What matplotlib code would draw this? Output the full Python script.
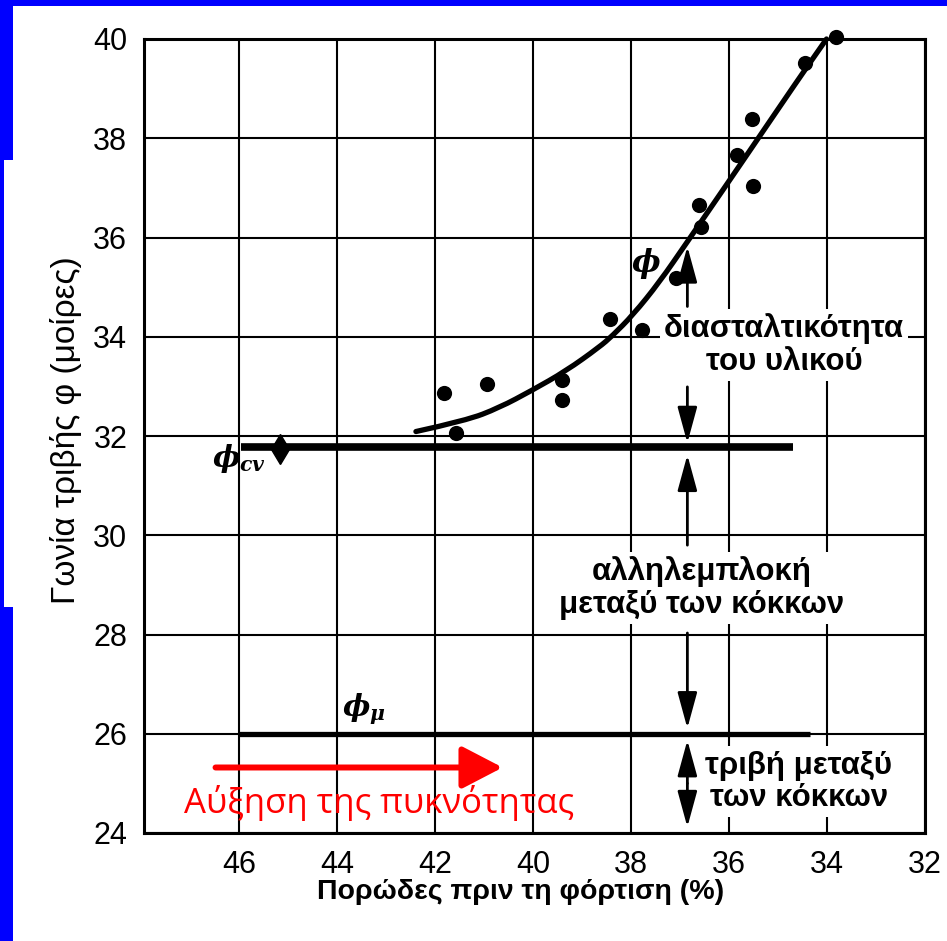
import matplotlib
matplotlib.use("Agg")
import matplotlib.pyplot as plt
from matplotlib.patches import Rectangle, PathPatch
from matplotlib.path import Path

# ---------------- data ----------------
porosity = [41.82, 41.58, 40.93, 39.41, 39.41, 38.43, 37.77, 37.09, 36.62,
            36.57, 35.84, 35.53, 35.52, 34.45, 33.82]
phi_vals = [32.86, 32.07, 33.05, 33.12, 32.73, 34.36, 34.13, 35.19, 36.66,
            36.21, 37.67, 38.39, 37.04, 39.52, 40.04]

diamond_x = [45.16]
diamond_y = [31.73]

curve_x = [42.39, 41.37, 40.69, 40.02, 39.33, 38.65, 38.38, 37.96, 37.42,
           36.86, 36.06, 35.39, 34.90, 34.45, 34.01]
curve_y = [32.09, 32.31, 32.57, 32.92, 33.31, 33.79, 34.02, 34.44, 35.10,
           35.90, 37.05, 38.02, 38.73, 39.38, 40.00]

phi_cv_x = [45.97, 34.70]
phi_cv_y = [31.77, 31.77]
phi_mu_x = [46.00, 34.35]
phi_mu_y = [26.00, 26.00]

x_ticks = [46, 44, 42, 40, 38, 36, 34, 32]
y_ticks = [24, 26, 28, 30, 32, 34, 36, 38, 40]

arrow_x = 36.85

plt.rcParams['mathtext.fontset'] = 'custom'
plt.rcParams['mathtext.it'] = 'DejaVu Serif:italic:bold'
plt.rcParams['mathtext.rm'] = 'DejaVu Serif:bold'
plt.rcParams['font.family'] = ['Liberation Sans', 'DejaVu Sans']

fig = plt.figure(figsize=(9.47, 9.41), dpi=100)
fig.patch.set_facecolor('white')

# blue slide frame pieces
blue = '#0000ff'
fig.patches.append(Rectangle((0, 1 - 6/941), 1, 6/941, transform=fig.transFigure,
                             facecolor=blue, edgecolor='none', zorder=0))
fig.patches.append(Rectangle((0, 1 - 160/941), 13/947, 160/941, transform=fig.transFigure,
                             facecolor=blue, edgecolor='none', zorder=0))
fig.patches.append(Rectangle((0, 1 - 607/941), 4/947, 447/941, transform=fig.transFigure,
                             facecolor=blue, edgecolor='none', zorder=0))
fig.patches.append(Rectangle((0, 0), 13/947, 334/941, transform=fig.transFigure,
                             facecolor=blue, edgecolor='none', zorder=0))

ax = fig.add_axes([144/947, 108/941, 781/947, 794/941])
ax.set_xlim(47.94, 32.0)
ax.set_ylim(24, 40)
ax.set_xticks(x_ticks)
ax.set_yticks(y_ticks)
ax.tick_params(length=0, labelsize=22, pad=12)
ax.grid(True, color='black', lw=1.5, zorder=1)
for s in ax.spines.values():
    s.set_linewidth(2.2)
    s.set_zorder(3)

# faded region behind the red caption
ax.add_patch(Rectangle((47.94, 24), 47.94 - 38.85, 1.3, facecolor='white', alpha=0.85,
                       edgecolor='none', zorder=1.5))

# smooth trend curve: quadratic Bezier through the read points (midpoint scheme)
pts = list(zip(curve_x, curve_y))
verts = [pts[0]]
codes = [Path.MOVETO]
for i in range(1, len(pts) - 2):
    mid = ((pts[i][0] + pts[i + 1][0]) / 2, (pts[i][1] + pts[i + 1][1]) / 2)
    verts += [pts[i], mid]
    codes += [Path.CURVE3, Path.CURVE3]
verts += [pts[-2], pts[-1]]
codes += [Path.CURVE3, Path.CURVE3]
ax.add_patch(PathPatch(Path(verts, codes), facecolor='none', edgecolor='black',
                       lw=3.8, capstyle='round', joinstyle='round', zorder=4,
                       clip_on=False))

ax.scatter(porosity, phi_vals, s=120, color='black', zorder=5, linewidths=0, clip_on=False)
ax.plot(phi_cv_x, phi_cv_y, color='black', lw=5.5, solid_capstyle='butt', zorder=4)
ax.plot(diamond_x, diamond_y, marker='d', markersize=15, color='black', zorder=5)
ax.plot(phi_mu_x, phi_mu_y, color='black', lw=3.8, solid_capstyle='butt', zorder=4)

# symbol labels
ax.text(37.69, 35.48, r'$\phi$', fontsize=22, ha='center', va='center', zorder=6)
ax.text(46.0, 31.55, r'$\phi_{cv}$', fontsize=21, ha='center', va='center', zorder=6)
ax.text(43.45, 26.5, r'$\phi_{\mu}$', fontsize=21, ha='center', va='center', zorder=6)

# black arrows
def arr(y0, y1, style='-|>'):
    ax.annotate('', xy=(arrow_x, y1), xytext=(arrow_x, y0),
                arrowprops=dict(arrowstyle=style + ',head_length=2.2,head_width=0.6',
                                mutation_scale=10, lw=2.0, color='black',
                                shrinkA=0, shrinkB=0), zorder=6)

arr(34.61, 35.82)
arr(32.99, 31.86)
arr(29.80, 31.62)
arr(28.03, 26.11)
arr(25.00, 25.87)
arr(25.00, 24.12)

# annotation texts
tkw = dict(fontsize=22.5, fontweight='bold', ha='center', va='center',
           multialignment='center', linespacing=1.12, zorder=5,
           bbox=dict(facecolor='white', edgecolor='none', pad=3))
ax.text(34.88, 33.84, 'διασταλτικότητα\nτου υλικού', **tkw)
ax.text(36.56, 28.94, 'αλληλεμπλοκή\nμεταξύ των κόκκων', **tkw)
ax.text(34.58, 25.03, 'τριβή μεταξύ\nτων κόκκων', **tkw)

# red arrow + caption
ax.annotate('', xy=(40.62, 25.32), xytext=(46.48, 25.32),
            arrowprops=dict(arrowstyle='-|>,head_length=1.25,head_width=0.65',
                            mutation_scale=20, lw=4.3, color='red',
                            shrinkA=0, shrinkB=0), zorder=6)
ax.text(47.13, 24.6, 'Αύξηση της πυκνότητας', color='red', fontsize=25,
        family=['Open Sans', 'DejaVu Sans'], ha='left', va='center', zorder=6)

# axis labels
fig.text(66/947, 1 - 430/941, 'Γωνία τριβής φ (μοίρες)', rotation=90, fontsize=24,
         ha='center', va='center')
fig.text(521/947, 1 - 899/941, 'Πορώδες πριν τη φόρτιση (%)', fontsize=20.5,
         fontweight='bold', ha='center', va='baseline')

fig.savefig('out.png', dpi=100, facecolor='white')
